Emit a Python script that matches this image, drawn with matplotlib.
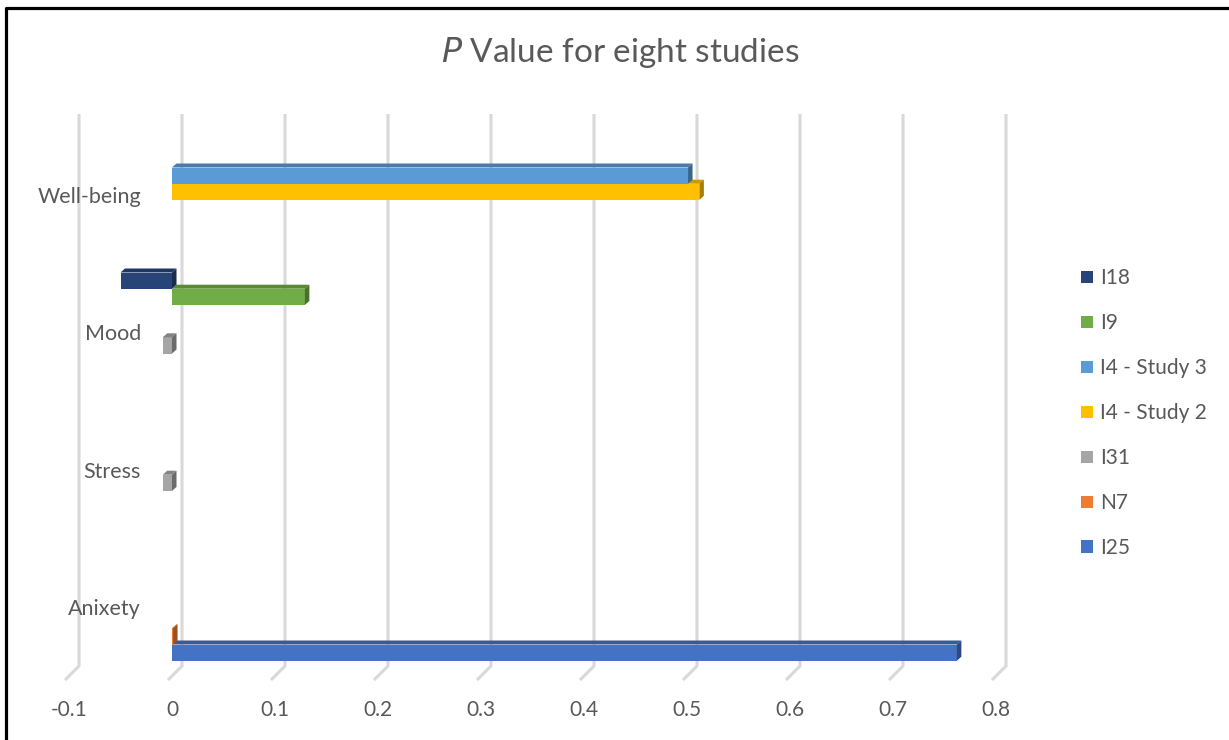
import numpy as np
import matplotlib
matplotlib.use("Agg")
import matplotlib.pyplot as plt
from matplotlib.patches import Polygon, Patch
from matplotlib.lines import Line2D
from matplotlib.colors import to_rgb

plt.rcParams['font.family'] = ['Lato', 'DejaVu Sans']

# data
categories = ["Anixety", "Stress", "Mood", "Well-being"]
series = ["I25", "N7", "I31", "I4 - Study 2", "I4 - Study 3", "I9", "I18"]
nan = np.nan
i25 = [0.762, nan, nan, nan]
n7 = [0.001, nan, nan, nan]
i31 = [nan, -0.009, -0.009, nan]
i4_study2 = [nan, nan, nan, 0.512]
i4_study3 = [nan, nan, nan, 0.501]
i9 = [nan, nan, 0.129, nan]
i18 = [nan, nan, -0.05, nan]
values = [i25, n7, i31, i4_study2, i4_study3, i9, i18]
colors = ["#4472C4", "#ED7D31", "#A5A5A5", "#FFC000", "#5B9BD5", "#70AD47", "#264478"]
xticks = [-0.1, 0, 0.1, 0.2, 0.3, 0.4, 0.5, 0.6, 0.7, 0.8]

W, H = 1229, 740
text_col = "#595959"

# pixel layout: value 0 at x=172 px, 1 unit = 1030 px
# first category centre at y=604 px, 137.4 px per category
X0, XS = 172, 1030
Y0, YS = 604, 137.4

fig = plt.figure(figsize=(W / 100, H / 100), dpi=100)
ax = fig.add_axes([0, 0, 1, 1])
ax.set_xlim(-X0 / XS, (W - X0) / XS)
ax.set_ylim((Y0 - H) / YS, Y0 / YS)
ax.axis("off")

px = 1 / XS


def ypix(p):
    return (Y0 - p) / YS


def shade(c, f):
    r, g, b = to_rgb(c)
    return (r * f, g * f, b * f)


# back wall gridlines with floor bend
for v in xticks:
    xb = v + 10 * px
    xf = v - 4 * px
    ax.plot([xb, xb, xf], [ypix(114), ypix(666), ypix(680)],
            color="#D9D9D9", lw=2.2, zorder=1, solid_capstyle="butt")
    ax.text(v, ypix(710), f"{v:g}", ha="center", va="center",
            fontsize=15, color=text_col)

# 3D bars
bh = 16.2 / YS
dx, dy = 4.5 * px, 4 / YS
for i, (vals, col) in enumerate(zip(values, colors)):
    for c, v in enumerate(vals):
        if np.isnan(v):
            continue
        yc = c + (i - 3) * bh
        y0, y1 = yc - bh / 2, yc + bh / 2
        ax.barh(yc, v, height=bh, left=0, color=col, zorder=3 + i)
        x0, x1 = min(0, v), max(0, v)
        top = Polygon([(x0, y1), (x1, y1), (x1 + dx, y1 + dy), (x0 + dx, y1 + dy)],
                      closed=True, facecolor=shade(col, 0.8), edgecolor="none", zorder=3 + i)
        side = Polygon([(x1, y0), (x1, y1), (x1 + dx, y1 + dy), (x1 + dx, y0 + dy)],
                       closed=True, facecolor=shade(col, 0.65), edgecolor="none", zorder=3 + i)
        ax.add_patch(top)
        ax.add_patch(side)

# category labels
for c, name in enumerate(categories):
    ax.text(-31 * px, c - 5 / YS, name, ha="right", va="center",
            fontsize=15.5, color=text_col, zorder=20)

# title
ax.text((620 - X0) * px, ypix(52), r"$\mathit{P}$ Value for eight studies",
        ha="center", va="center", fontsize=24, color=text_col)

# legend (reversed order like Excel)
handles = [Patch(facecolor=colors[i], edgecolor="none") for i in range(len(series))][::-1]
leg = ax.legend(handles, series[::-1], loc="upper left",
                bbox_to_anchor=(1073 / W, 1 - 260 / H), frameon=False,
                fontsize=15, handlelength=0.58, handleheight=0.58,
                handletextpad=0.3, labelspacing=1.2, borderaxespad=0)
for t in leg.get_texts():
    t.set_color(text_col)

# chart border (left and top edges visible)
fig.add_artist(Line2D([6.5 / W, 6.5 / W, 1.0], [0.0, 1 - 8 / H, 1 - 8 / H],
                      transform=fig.transFigure, color="black", lw=2.3))

fig.savefig("out.png", dpi=100)
